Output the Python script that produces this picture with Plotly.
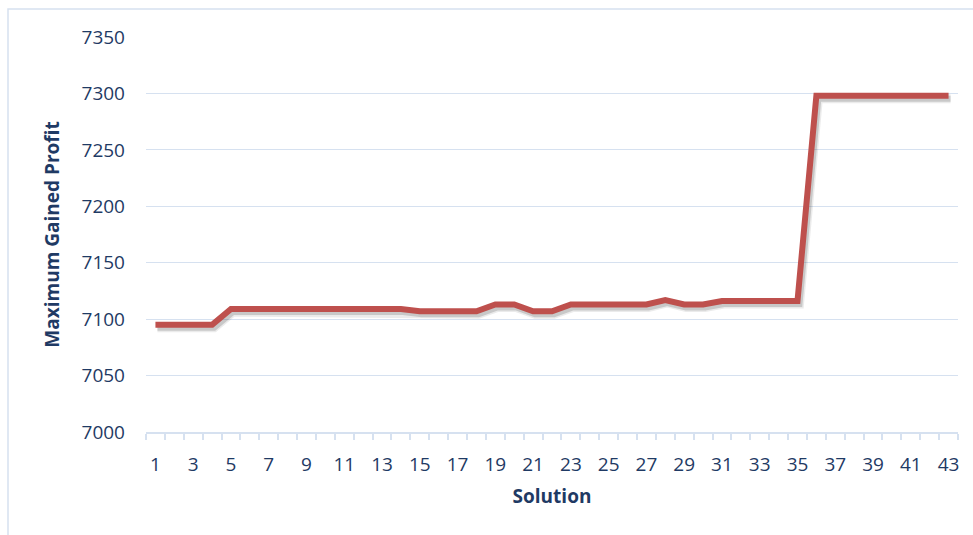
import plotly.graph_objects as go

# Solution index and the maximum gained profit reached by each solution
solutions = list(range(1, 44))
profit = [7095, 7095, 7095, 7095,
          7109, 7109, 7109, 7109, 7109, 7109, 7109, 7109, 7109, 7109,
          7107, 7107, 7107, 7107,
          7113, 7113,
          7107, 7107,
          7113, 7113, 7113, 7113, 7113,
          7117,
          7113, 7113,
          7116, 7116, 7116, 7116, 7116,
          7298, 7298, 7298, 7298, 7298, 7298, 7298, 7298]
x_tick_labels = [str(v) for v in range(1, 44, 2)]
y_ticks = [7000, 7050, 7100, 7150, 7200, 7250, 7300, 7350]

W, H = 973, 535
ML, MR, MT, MB = 146, 13, 37, 100
PW, PH = W - ML - MR, H - MT - MB
SX, SY = 2, 3  # drop-shadow offset in pixels
dx, dy = SX / PW, SY / PH

TEXT = "#1F3A64"
GRID = "#D6E1F0"
LINE = "#BE504D"
FONT = "Open Sans"

fig = go.Figure()
# soft drop shadow under the line (two passes for a blurred edge)
for w, a in [(9, 0.10), (6, 0.20)]:
    fig.add_trace(go.Scatter(x=solutions, y=profit, mode="lines", xaxis="x2", yaxis="y2",
                             line=dict(color=f"rgba(60,60,60,{a})", width=w),
                             hoverinfo="skip", showlegend=False))
fig.add_trace(go.Scatter(x=solutions, y=profit, mode="lines", xaxis="x3", yaxis="y3",
                         line=dict(color=LINE, width=6), showlegend=False))
# empty trace so the visible axes are drawn
fig.add_trace(go.Scatter(x=[], y=[], mode="lines", showlegend=False))

xr = [0.5, 43.5]
yr = [7000, 7350]
fig.update_layout(
    width=W, height=H,
    margin=dict(l=ML, r=MR, t=MT, b=MB),
    paper_bgcolor="white", plot_bgcolor="rgba(0,0,0,0)",
    font=dict(family=FONT, color=TEXT),
    xaxis=dict(domain=[0, 1 - dx], range=xr, tickvals=list(range(1, 44, 2)),
               ticktext=x_tick_labels, ticks="", showgrid=False,
               showline=True, linecolor=GRID, linewidth=1.5,
               tickfont=dict(size=19, color=TEXT), ticklabelstandoff=14,
               minor=dict(tick0=0.5, dtick=1, ticks="outside", ticklen=6,
                          tickcolor=GRID, tickwidth=1.5, showgrid=False),
               title=dict(text="<b>Solution</b>", font=dict(size=19, color=TEXT), standoff=14),
               zeroline=False),
    yaxis=dict(domain=[dy, 1], range=yr, tickvals=y_ticks, showgrid=True,
               gridcolor=GRID, gridwidth=1, showline=False, ticks="",
               tickfont=dict(size=19, color=TEXT), ticklabelstandoff=20,
               title=dict(text="<b>Maximum Gained Profit</b>", font=dict(size=19, color=TEXT),
                          standoff=16),
               zeroline=False),
    xaxis2=dict(domain=[dx, 1], range=xr, visible=False, anchor="y2"),
    yaxis2=dict(domain=[0, 1 - dy], range=yr, visible=False, anchor="x2"),
    xaxis3=dict(domain=[0, 1 - dx], range=xr, visible=False, anchor="y3"),
    yaxis3=dict(domain=[dy, 1], range=yr, visible=False, anchor="x3"),
    shapes=[dict(type="rect", xref="paper", yref="paper",
                 x0=(8 - ML) / PW, x1=1.5, y0=-1, y1=1 + (MT - 9) / PH,
                 line=dict(color=GRID, width=1.5), layer="below")],
)

fig.write_html("out.html")
